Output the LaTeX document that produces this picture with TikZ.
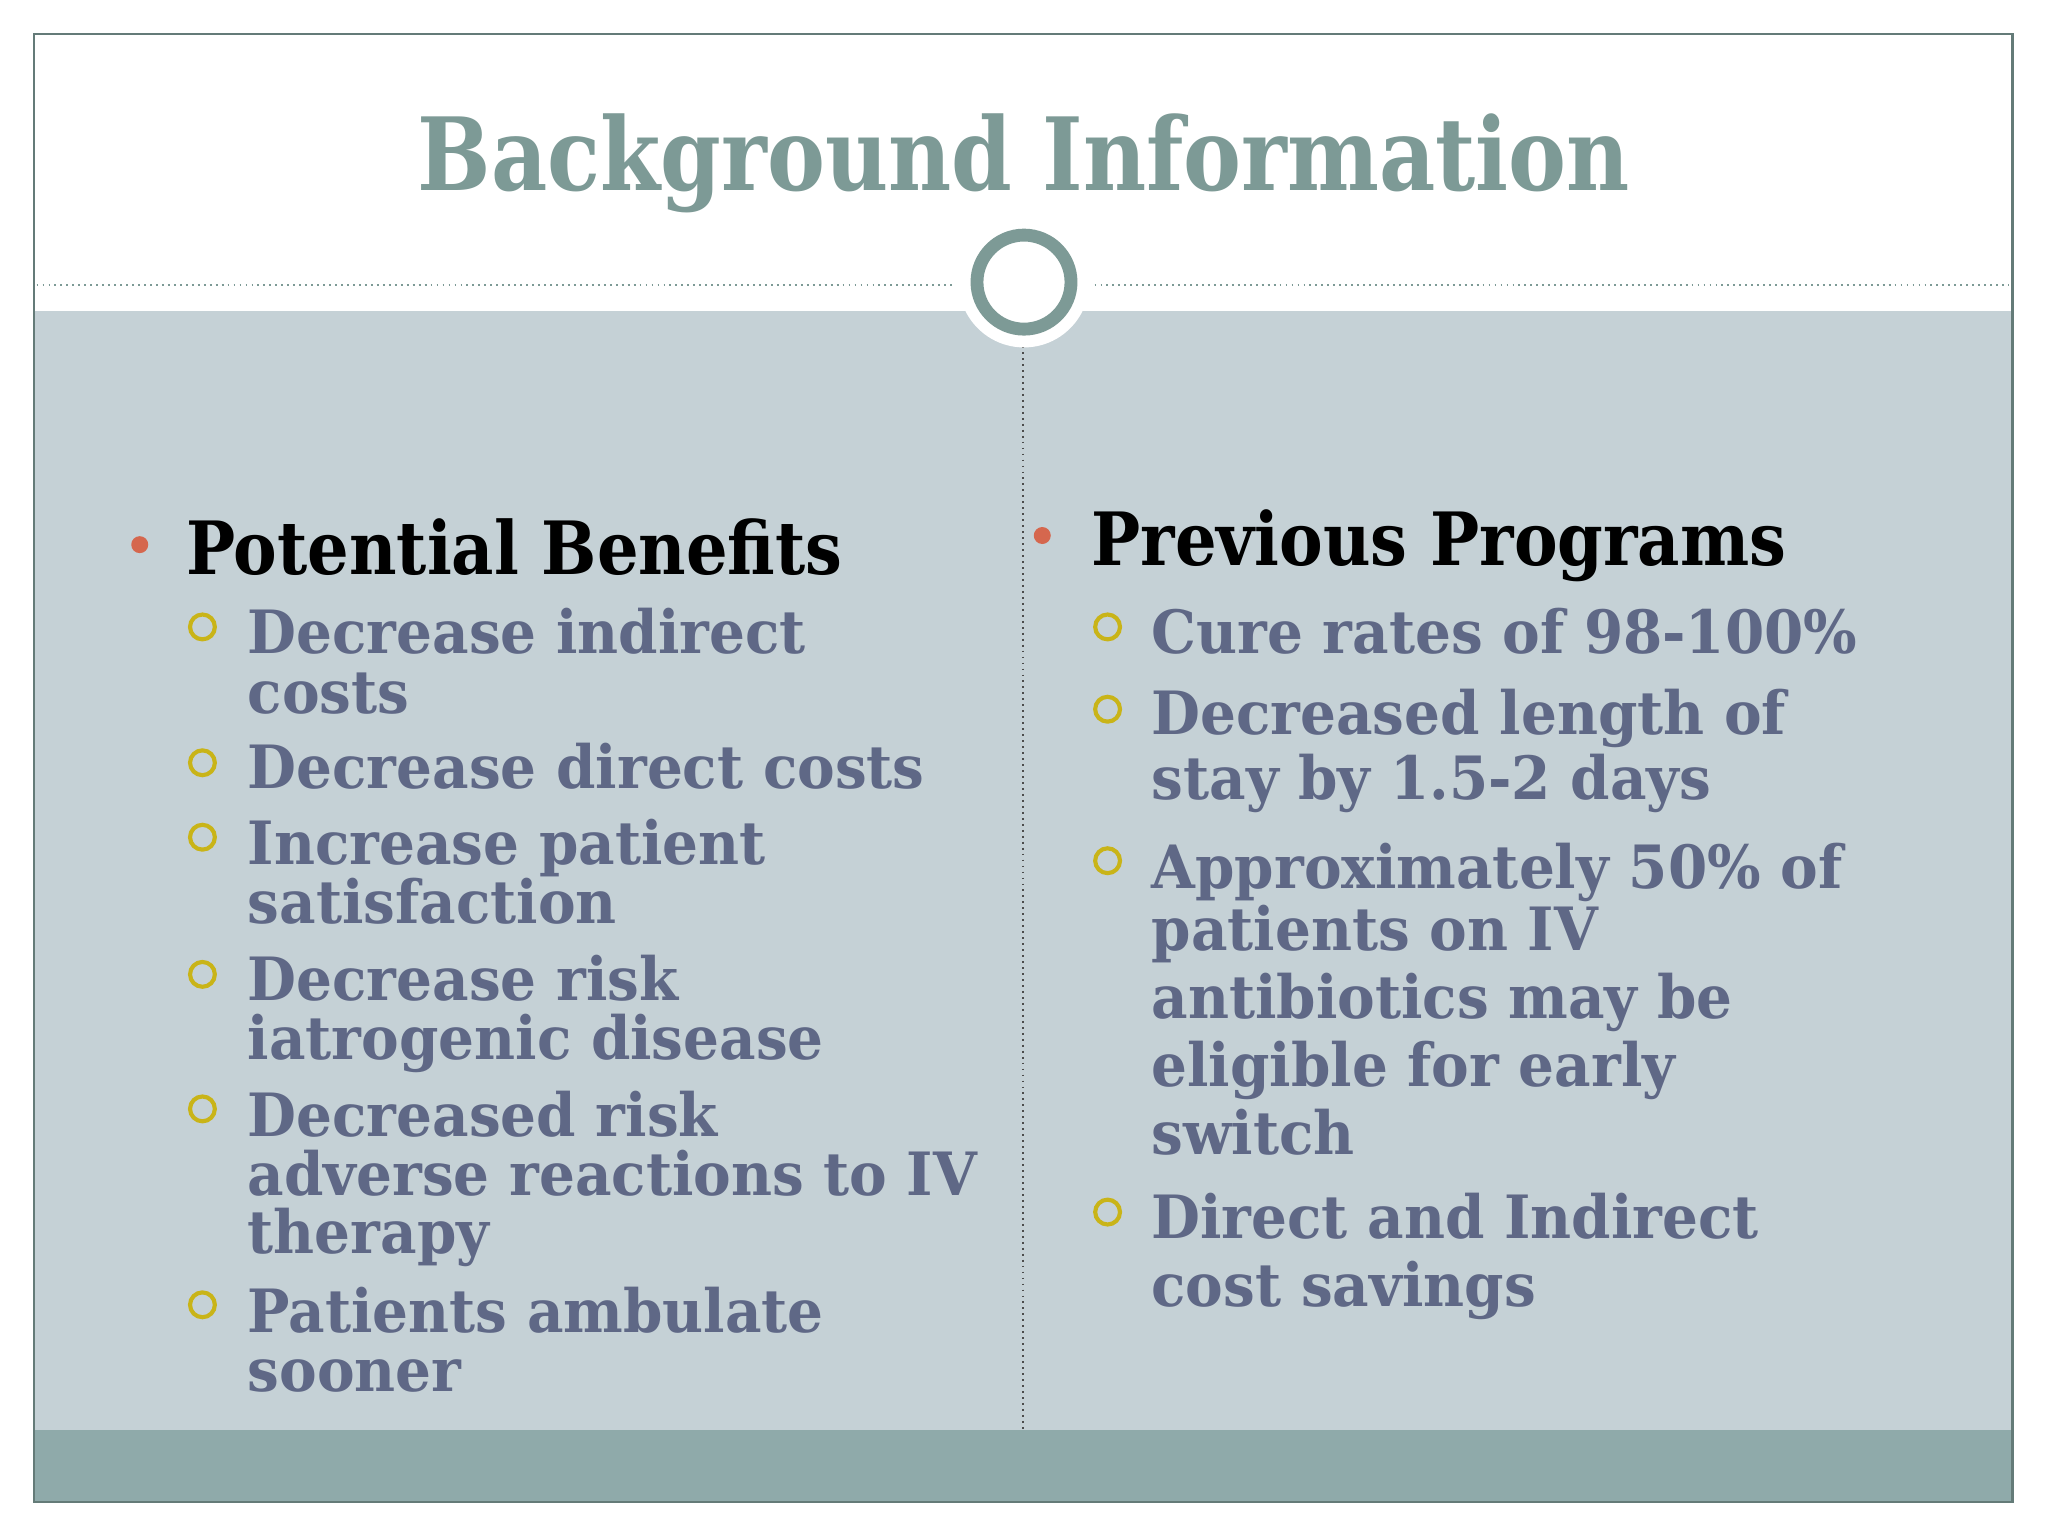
\documentclass[tikz,border=0pt]{standalone}
\usepackage{fontspec}
\setmainfont{DejaVu Serif}
\newfontfamily\titlef[FakeStretch=0.86]{DejaVu Serif}
\newfontfamily\headf[FakeStretch=0.89]{DejaVu Serif}
\newfontfamily\bodyf[FakeStretch=0.945]{DejaVu Serif}
\definecolor{teal}{HTML}{7D9A96}
\definecolor{panel}{HTML}{C5D1D6}
\definecolor{band}{HTML}{8FAAAA}
\definecolor{body}{HTML}{5F6886}
\definecolor{ring}{HTML}{C9B418}
\definecolor{reddot}{HTML}{D5674E}
\begin{document}
\begin{tikzpicture}[x=0.01cm,y=-0.01cm,
  it/.style={anchor=base west,inner sep=0,text=body,font=\bodyf\bfseries\fontsize{13}{15}\selectfont},
  hd/.style={anchor=base west,inner sep=0,text=black,font=\headf\bfseries\fontsize{16}{18}\selectfont},
  bul/.style={circle,draw=ring,line width=0.9pt,minimum size=0.19cm,inner sep=0},
  dot/.style={circle,fill=reddot,minimum size=0.13cm,inner sep=0}]
\useasboundingbox (0,0) rectangle (1568,1176);
\fill[white] (0,0) rectangle (1568,1176);
\fill[panel] (26,238) rectangle (1541,1095);
\fill[band] (26,1095) rectangle (1541,1150);
\draw[teal!80!black,line width=0.6pt] (26,26) rectangle (1541,1150);
\draw[teal,dash pattern=on 0.4pt off 0.9pt,line width=0.5pt] (28,218) -- (730,218) (838,218) -- (1538,218);
\draw[black!70,dash pattern=on 0.4pt off 0.9pt,line width=0.5pt] (783,265) -- (783,1095);
\fill[white] (784,216) circle (50);
\draw[teal,line width=2.8pt] (784,216) circle (36);
\node[inner sep=0,text=teal,font=\titlef\bfseries\fontsize{22}{26}\selectfont] (title) at (784,125) {Background Information};
% left
\node[dot] (d1) at (107,417) {};
\node[hd] (h1) at (142,440) {Potential Benefits};
\foreach \y in {480,584,641,746,849,999} \node[bul] at (155,\y) {};
\node[it] at (189,500) {Decrease indirect};
\node[it] at (189,546) {costs};
\node[it] at (189,604) {Decrease direct costs};
\node[it] at (189,662) {Increase patient};
\node[it] at (189,707) {satisfaction};
\node[it] at (189,766) {Decrease risk};
\node[it] at (189,811) {iatrogenic disease};
\node[it] at (189,870) {Decreased risk};
\node[it] at (189,915) {adverse reactions to IV};
\node[it] at (189,960) {therapy};
\node[it] at (189,1020) {Patients ambulate};
\node[it] at (189,1065) {sooner};
% right
\node[dot] (d2) at (798,410) {};
\node[hd] (h2) at (835,433) {Previous Programs};
\foreach \y in {480,543,659,928} \node[bul] at (848,\y) {};
\node[it] at (881,500) {Cure rates of 98-100\%};
\node[it] at (881,562) {Decreased length of};
\node[it] at (881,612) {stay by 1.5-2 days};
\node[it] at (881,680) {Approximately 50\% of};
\node[it] at (881,728) {patients on IV};
\node[it] at (881,780) {antibiotics may be};
\node[it] at (881,832) {eligible for early};
\node[it] at (881,884) {switch};
\node[it] at (881,948) {Direct and Indirect};
\node[it] at (881,1000) {cost savings};
\end{tikzpicture}
\end{document}
